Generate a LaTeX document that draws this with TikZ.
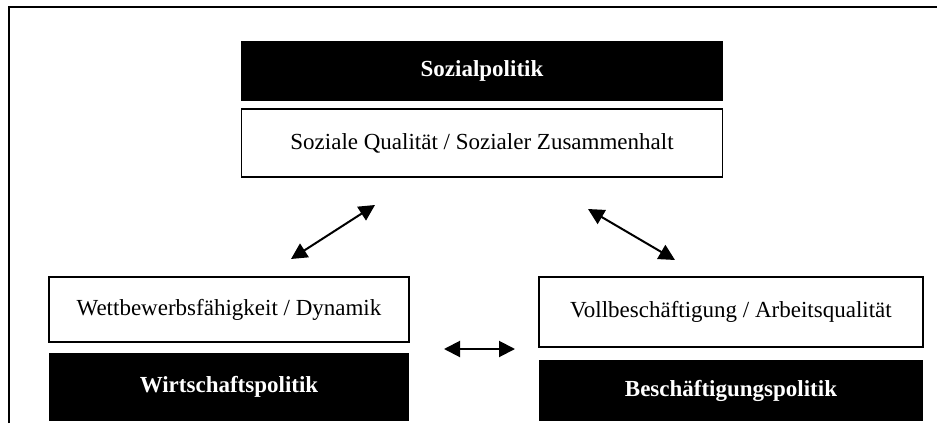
\documentclass[tikz,border=0pt]{standalone}
\usepackage{fontspec}
\setmainfont{Liberation Serif}
\usetikzlibrary{positioning,arrows.meta}
\tikzset{>={Triangle[length=8pt,width=8pt]},
shorten >=0pt,shorten <=0pt,
wb/.style={rectangle,draw,line width=0.8pt,fill=white,inner sep=1mm,font=\fontsize{11.5}{14}\selectfont},
sb/.style={rectangle,fill=black,text=white,inner sep=1mm,font=\fontsize{11.5}{14}\selectfont\bfseries},
dbl/.style={<->,line width=1pt},
frm/.style={line width=1.2pt},
}
\begin{document}
\begin{tikzpicture}[x=0.5pt,y=-0.5pt,node distance=5pt]
	\useasboundingbox (0,0) rectangle (937,423);
	\draw[frm] (9,423) -- (9,7) -- (937,7);

	\node[sb,minimum width=241pt,minimum height=30pt] (soz) at (482,71) {Sozialpolitik};
	\node[wb,minimum width=240.5pt,minimum height=34pt,below=3.5pt of soz] (sozq) {Soziale Qualität / Sozialer Zusammenhalt};

	\node[wb,minimum width=180pt,minimum height=32.5pt] (wett) at (229,309.5) {Wettbewerbsfähigkeit / Dynamik};
	\node[sb,minimum width=180pt,minimum height=34pt,below=of wett] (wirt) {Wirtschaftspolitik};

	\node[wb,minimum width=192pt,minimum height=35pt] (voll) at (731,312) {Vollbeschäftigung / Arbeitsqualität};
	\node[sb,minimum width=192pt,minimum height=30.5pt,below=6pt of voll] (besch) {Beschäftigungspolitik};

	\coordinate (la) at (291,259);
	\coordinate (lb) at (375,205);
	\coordinate (ra) at (588,209);
	\coordinate (rb) at (675,260);
	\coordinate (ha) at (444,349);
	\coordinate (hb) at (515,349);

	\path[dbl]
	(la) edge (lb)
	(ra) edge (rb)
	(ha) edge (hb)
	;
\end{tikzpicture}
\end{document}
